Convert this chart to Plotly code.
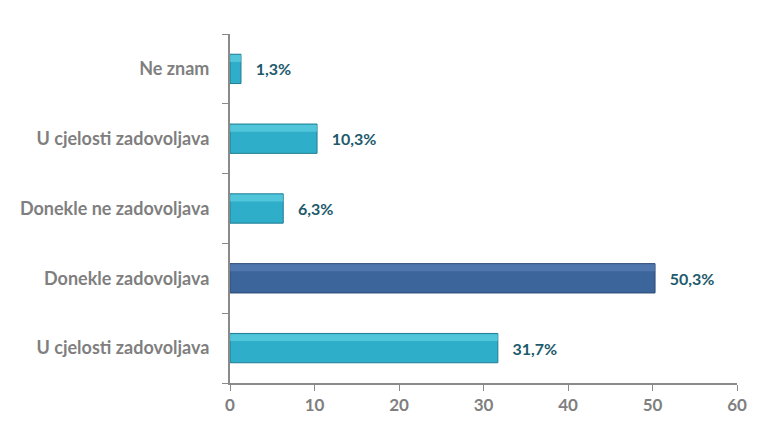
import plotly.graph_objects as go

categories = ["U cjelosti zadovoljava", "Donekle zadovoljava", "Donekle ne zadovoljava",
              "U cjelosti zadovoljava", "Ne znam"]
values = [31.7, 50.3, 6.3, 10.3, 1.3]
labels = ["31,7%", "50,3%", "6,3%", "10,3%", "1,3%"]
x_ticks = [0, 10, 20, 30, 40, 50, 60]

positions = list(range(len(categories)))
colors = ["#2eaec8" if i != 1 else "#3c659b" for i in positions]
line_colors = ["#1f7d93" if i != 1 else "#2a4a75" for i in positions]

fig = go.Figure()
fig.add_trace(go.Bar(
    x=values, y=positions, orientation="h", width=0.42,
    marker=dict(color=colors, line=dict(color=line_colors, width=1)),
    text=labels, texttemplate="   %{text}", textposition="outside",
    textfont=dict(family="Lato", size=16, color="#1d5a6c", weight="bold"),
    cliponaxis=False, hoverinfo="skip",
))
# highlight strip (top of bar) for a glossy look
highlight = ["#6fd8ea" if i != 1 else "#5f87bd" for i in positions]
fig.add_trace(go.Bar(
    x=values, y=positions, orientation="h", width=0.1, offset=0.1,
    marker=dict(color=highlight, opacity=0.55, line=dict(width=0)),
    hoverinfo="skip",
))

fig.update_layout(
    width=754, height=424, barmode="overlay", showlegend=False,
    plot_bgcolor="white", paper_bgcolor="white",
    margin=dict(l=222, r=25, t=26, b=49),
    font=dict(family="Lato", size=18, color="#7f7f7f"),
    xaxis=dict(range=[0, 60], tickvals=x_ticks, showgrid=False, zeroline=False,
               showline=True, linecolor="#8a8a8a", linewidth=2, automargin=False,
               ticks="outside", ticklen=6, tickcolor="#8a8a8a",
               tickfont=dict(family="Lato", size=17, color="#7f7f7f", weight="bold")),
    yaxis=dict(range=[-0.5, 4.5], tickvals=positions, ticktext=categories,
               showgrid=False, zeroline=False, showline=True, linecolor="#8a8a8a",
               linewidth=2, ticks="", ticklabelstandoff=15, automargin=False,
               tickfont=dict(family="Lato", size=18, color="#7f7f7f", weight="bold")),
)
# minor ticks between categories
fig.update_yaxes(minor=dict(tickvals=[-0.5, 0.5, 1.5, 2.5, 3.5, 4.5], ticks="outside",
                            ticklen=6, tickcolor="#8a8a8a"))
fig.write_html("out.html")
